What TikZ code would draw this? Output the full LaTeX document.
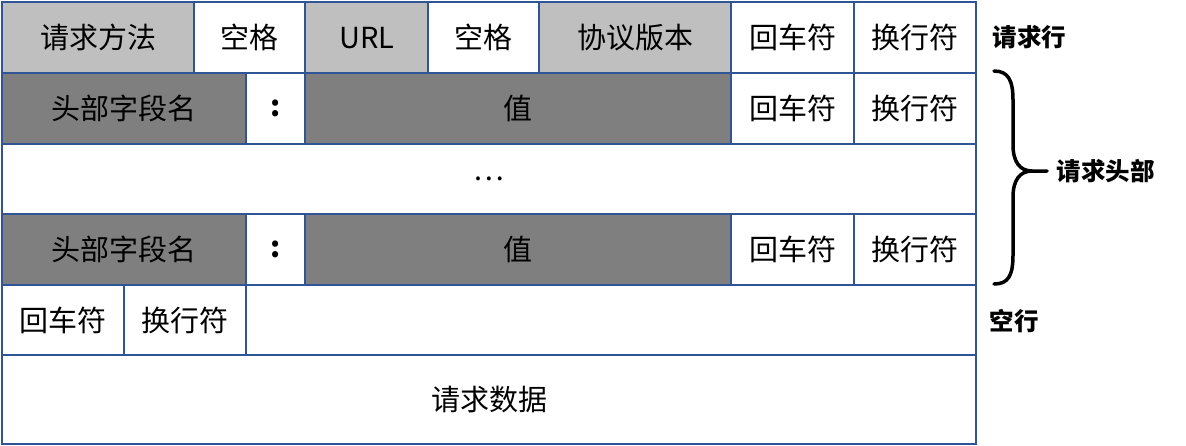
\documentclass[tikz,border=0pt]{standalone}
\usepackage{fontspec}
\setmainfont{Noto Sans CJK SC}
\usepackage{tikz}
\definecolor{edge}{HTML}{2F5597}
\definecolor{lightcell}{HTML}{BFBFBF}
\definecolor{darkcell}{HTML}{7F7F7F}

\begin{document}
\begin{tikzpicture}[x=1pt, y=-1pt,
        cell/.style = {draw = edge, line width = 2.3pt, anchor = north west, inner sep = 0pt,
            font = \fontsize{29}{32}\selectfont},
        light/.style = {cell, fill = lightcell},
        dark/.style = {cell, fill = darkcell},
        plain/.style = {cell, fill = white},
        side/.style = {anchor = west, font = \fontsize{24.5}{28}\selectfont\bfseries}]
        \useasboundingbox (0, 0) rectangle (1186, 445);
        % request line
        \node[light, minimum width = 192, minimum height = 71] (method) at (1, 1) {请求方法};
        \node[plain, minimum width = 111, minimum height = 71] (space1) at (193, 1) {空格};
        \node[light, minimum width = 123, minimum height = 71] (url) at (304, 1) {URL};
        \node[plain, minimum width = 111, minimum height = 71] (space2) at (427, 1) {空格};
        \node[light, minimum width = 192, minimum height = 71] (version) at (538, 1) {协议版本};
        \node[plain, minimum width = 123, minimum height = 71] (cr1) at (730, 1) {回车符};
        \node[plain, minimum width = 122, minimum height = 71] (lf1) at (853, 1) {换行符};
        % header lines
        \node[dark, minimum width = 244, minimum height = 71] (name1) at (1, 72) {头部字段名};
        \node[plain, minimum width = 59, minimum height = 71] (colon1) at (245, 72) {\textbf{:}};
        \node[dark, minimum width = 426, minimum height = 71] (value1) at (304, 72) {值};
        \node[plain, minimum width = 123, minimum height = 71] (cr2) at (730, 72) {回车符};
        \node[plain, minimum width = 122, minimum height = 71] (lf2) at (853, 72) {换行符};
        \node[plain, minimum width = 974, minimum height = 70] (dots) at (1, 143) {…};
        \node[dark, minimum width = 244, minimum height = 71] (name2) at (1, 213) {头部字段名};
        \node[plain, minimum width = 59, minimum height = 71] (colon2) at (245, 213) {\textbf{:}};
        \node[dark, minimum width = 426, minimum height = 71] (value2) at (304, 213) {值};
        \node[plain, minimum width = 123, minimum height = 71] (cr3) at (730, 213) {回车符};
        \node[plain, minimum width = 122, minimum height = 71] (lf3) at (853, 213) {换行符};
        % blank line
        \node[plain, minimum width = 122, minimum height = 70] (cr4) at (1, 284) {回车符};
        \node[plain, minimum width = 122, minimum height = 70] (lf4) at (123, 284) {换行符};
        \node[plain, minimum width = 730, minimum height = 70] (blank) at (245, 284) {};
        % body
        \node[plain, minimum width = 974, minimum height = 89] (body) at (1, 354) {请求数据};
        % labels
        \node[side] (linelabel) at (989, 37) {请求行};
        \node[side] (blanklabel) at (986, 321) {空行};
        \coordinate (bracetip) at (1047, 171);
        \draw[line width = 3.5pt, line cap = round]
            (994, 71) .. controls (1008, 71) and (1013, 80) .. (1013, 100)
            -- (1013, 145) .. controls (1013, 162) and (1020, 171) .. (1032, 171)
            -- (bracetip);
        \draw[line width = 3.5pt, line cap = round]
            (1032, 171) .. controls (1020, 171) and (1013, 180) .. (1013, 197)
            -- (1013, 255) .. controls (1013, 276) and (1008, 284) .. (994, 284);
        \node[side] (headlabel) at (1053, 171) {请求头部};
\end{tikzpicture}
\end{document}
